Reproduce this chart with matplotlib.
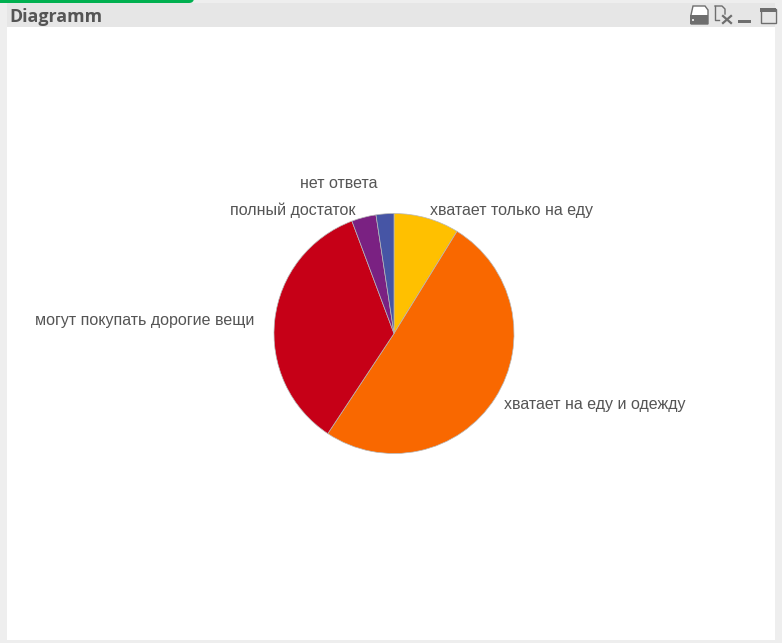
import matplotlib
matplotlib.use("Agg")
import matplotlib.pyplot as plt
from matplotlib.patches import Rectangle, FancyBboxPatch, Polygon

# shares in percent, clockwise from 12 o'clock
labels = ["хватает только на еду", "хватает на еду и одежду", "могут покупать дорогие вещи",
          "полный достаток", "нет ответа"]
values = [8.8, 50.5, 35.0, 3.3, 2.4]
colors = ["#FFC000", "#F96800", "#C60017", "#7A2182", "#4655A5"]
title = "Diagramm"

W, H = 782, 643
fig = plt.figure(figsize=(W / 100, H / 100), dpi=100, facecolor="#EEEEEE")

# window chrome drawn in pixel coordinates
bg = fig.add_axes([0, 0, 1, 1])
bg.set_xlim(0, W)
bg.set_ylim(H, 0)
bg.axis("off")
bg.add_patch(Rectangle((7, 3), 768, 24, color="#E6E6E6", lw=0))
bg.add_patch(Rectangle((7, 27), 768, 613, color="white", lw=0))
bg.add_patch(FancyBboxPatch((-10, -10), 204, 13, boxstyle="round,pad=0,rounding_size=5",
                            color="#00B050", lw=0))
bg.text(9.5, 16.5, title, fontsize=12.9, fontweight="bold", color="#555555",
        family="Open Sans", va="center", ha="left")

# toolbar icons
icon = "#6E6E6E"
bg.add_patch(Polygon([(691, 15), (693, 6), (705, 6), (708, 10), (708, 24), (691, 24)],
                     closed=True, fc="white", ec=icon, lw=1))
bg.add_patch(Rectangle((690, 15), 18, 9, color=icon, lw=0))
bg.add_patch(Rectangle((692, 19), 2, 2, color="#DDDDDD", lw=0))
bg.plot([715, 715, 719], [6, 20, 20], color=icon, lw=1)
bg.plot([715, 722, 725, 725], [6, 6, 9, 14], color=icon, lw=1)
bg.plot([723, 731], [16, 23], color=icon, lw=1.6)
bg.plot([731, 723], [16, 23], color=icon, lw=1.6)
bg.add_patch(Rectangle((738, 20), 13, 3, color=icon, lw=0))
bg.add_patch(Rectangle((760.5, 8.5), 15, 14.5, fc="none", ec=icon, lw=1))
bg.add_patch(Rectangle((760, 8), 16, 4, color=icon, lw=0))

# pie centred on (394, 333.5) with a 120 px radius
cx, cy, r = 394, 333.5, 120
ax = fig.add_axes([(cx - r) / W, 1 - (cy + r) / H, 2 * r / W, 2 * r / H])
ax.pie(values, colors=colors, startangle=90, counterclock=False, radius=1,
       wedgeprops={"edgecolor": "#B8B8B8", "linewidth": 0.5})
ax.set_xlim(-1, 1)
ax.set_ylim(-1, 1)

label_pos = [(430, 210, "left"), (503.5, 405, "left"), (254.5, 320, "right"),
             (355, 210, "right"), (378, 183, "right")]
for text, (x, y, ha) in zip(labels, label_pos):
    bg.text(x, y, text, fontsize=11.55, color="#555555", family="Liberation Sans", va="center", ha=ha)

fig.savefig("out.png", dpi=100, facecolor=fig.get_facecolor())
